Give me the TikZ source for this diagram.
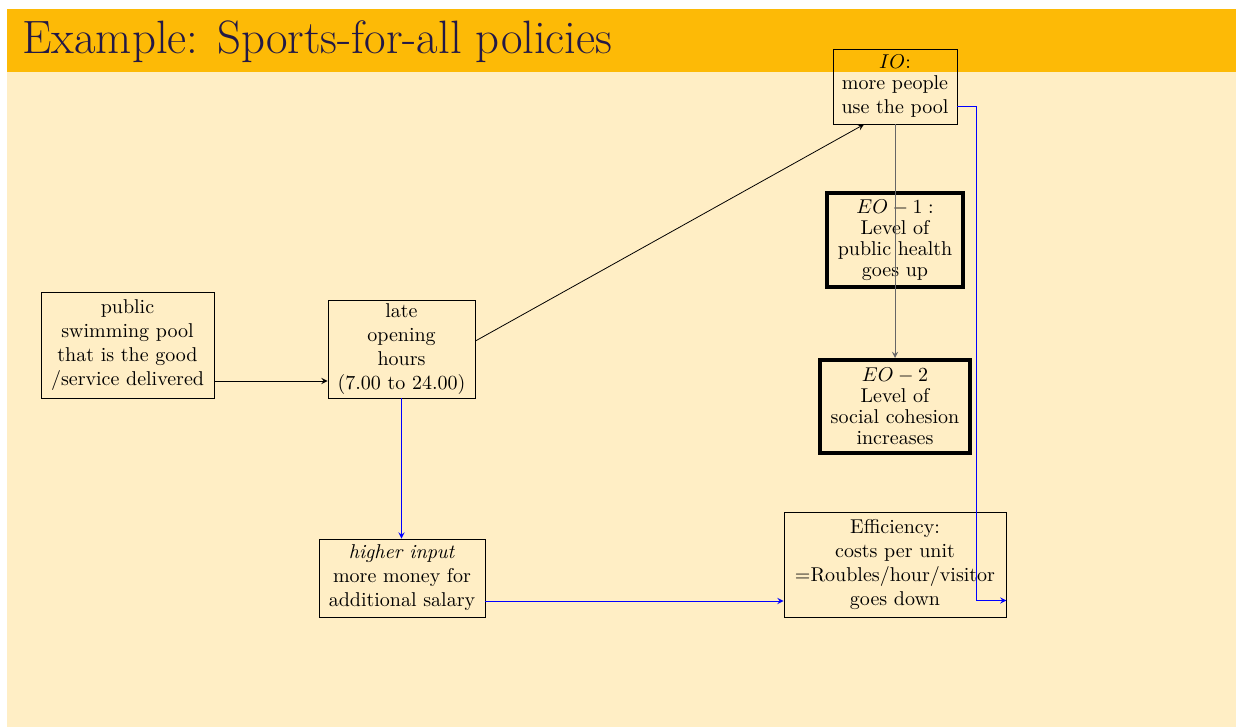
\documentclass[tikz,border=0pt]{standalone}
\usepackage{tikz}
\definecolor{slidebg}{RGB}{255,238,197}
\definecolor{barorange}{RGB}{253,186,6}
\definecolor{titleink}{RGB}{35,25,70}
\begin{document}
\begin{tikzpicture}[
        x=0.5pt, y=-0.5pt, % one unit = one pixel, y downwards
        every node/.style = {font=\fontsize{10}{12}\selectfont},
        box/.style = {draw, rectangle, align=center, inner sep=0pt}, % plain box
        goal/.style = {box, line width=2pt, font=\fontsize{10}{10.5}\selectfont}, % thick box
        link/.style = {draw, -stealth},
        bluelink/.style = {link, blue},
    ]

    % slide
    \fill[white] (0,0) rectangle (1236,727);
    \fill[slidebg] (7,9) rectangle (1236,727);
    \fill[barorange] (7,9) rectangle (1236,72);
    \node[anchor=base west, inner sep=0pt, text=titleink, font=\fontsize{23.4}{28}\selectfont] (title) at (22,54) {Example: Sports-for-all policies};

    % boxes
    \node[box, minimum width=86.5pt, minimum height=53pt] (pool) at (127.5,345) {public\\swimming pool\\that is the good\\/service delivered};
    \node[box, minimum width=73.5pt, minimum height=49pt] (late) at (401.5,349) {late\\opening\\hours\\(7.00 to 24.00)};
    \node[box, minimum width=62pt, minimum height=37.5pt] (io) at (895,86.5) {$IO$:\\[-1.5pt]more people\\use the pool};
    \node[goal, minimum width=68pt, minimum height=47pt] (eoone) at (895,240) {$EO-1:$\\Level of\\public health\\goes up};
    \node[goal, minimum width=75pt, minimum height=46.5pt] (eotwo) at (895,406.5) {$EO-2$\\Level of\\social cohesion\\increases};
    \node[box, minimum width=83pt, minimum height=39pt] (input) at (402,578) {\textit{higher input}\\more money for\\additional salary};
    \node[box, minimum width=111pt, minimum height=52.5pt] (eff) at (895,564.5) {Efficiency:\\costs per unit\\=Roubles/hour/visitor\\goes down};

    % connectors
    \draw[link] ([yshift=-18pt]pool.east) -- ([yshift=-18pt]pool.east -| late.west);
    \draw[link] ([yshift=4pt]late.east) -- ([xshift=-15.5pt]io.south);
    \draw[link, black!60] (io.south) -- (eotwo.north);
    \draw[bluelink] ([yshift=-10pt]io.east) -- ++(9.5pt,0) coordinate (turn) |- ([yshift=-18pt]eff.east);
    \draw[bluelink] (late.south) -- (late.south |- input.north);
    \draw[bluelink] ([yshift=-11.5pt]input.east) -- ([yshift=-11.5pt]input.east -| eff.west);
\end{tikzpicture}
\end{document}
